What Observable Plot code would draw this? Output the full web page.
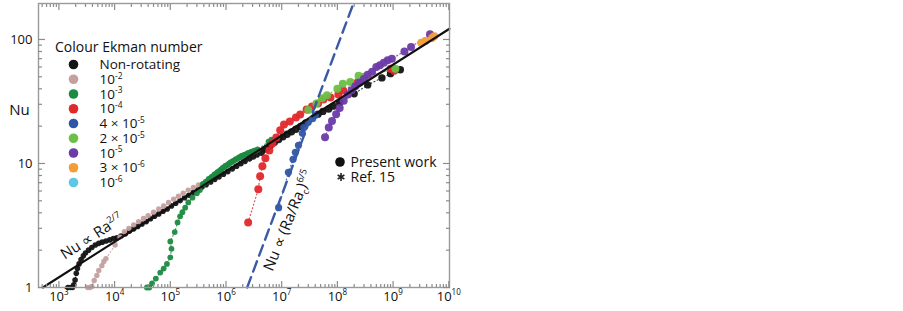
<!DOCTYPE html>
<html><head><meta charset="utf-8">
<script src="https://cdn.jsdelivr.net/npm/d3@7"></script>
<script src="https://cdn.jsdelivr.net/npm/@observablehq/plot@0.6"></script>
<style>
body{margin:0;background:#fff;}
#chart{width:903px;height:311px;}
</style></head><body><div id="chart"></div>
<script>
// ---------------- data ----------------
const legendTitle = "Colour Ekman number";
const seriesLabels = ["Non-rotating","10^{-2}","10^{-3}","10^{-4}","4 × 10^{-5}","2 × 10^{-5}","10^{-5}","3 × 10^{-6}","10^{-6}"];
const seriesColors = ["#141414","#c4a09f","#1d8a42","#e1282b","#2f55a5","#6cbf47","#6b3ba8","#f29e38","#5dc7e8"];

const blackRa = [1.45e3,1.6e3,1.75e3,1.85e3,1.95e3,2.05e3,2.15e3,2.3e3,2.5e3,2.75e3,3.0e3,3.4e3,3.9e3,4.5e3,5.2e3,6e3,7e3,8.2e3,9.5e3,1.1e4,1.3e4,1.55e4,1.85e4,2.2e4,2.6e4,3.1e4,3.7e4,4.4e4,5.2e4,6.2e4,7.4e4,8.8e4,1.05e5,1.25e5,1.5e5,1.8e5,2.15e5,2.6e5,3.1e5,3.7e5,4.4e5,5.3e5,6.3e5,7.5e5,9e5,1.08e6,1.3e6,1.55e6,1.85e6,2.2e6,2.65e6,3.1e6,3.6e6];
const blackNu = [1.0,1.0,1.0,1.05,1.15,1.3,1.42,1.55,1.68,1.8,1.9,2.0,2.1,2.2,2.27,2.32,2.37,2.42,2.48,2.52,2.6,2.7,2.85,2.97,3.1,3.25,3.4,3.58,3.76,3.92,4.12,4.3,4.55,4.78,5.02,5.3,5.55,5.85,6.12,6.45,6.75,7.1,7.45,7.8,8.2,8.6,9.05,9.5,9.95,10.4,10.9,11.3,11.7];
const blackPwRa = [4.3e6,5.2e6,6.2e6,7.4e6,8.8e6,1.05e7,1.25e7,1.5e7,1.8e7,2.2e7,2.7e7,4.5e7,5.5e7,7e7,8.5e7,1.1e8,2e8,3.5e8,6.3e8,9e8,1.35e9];
const blackPwNu = [12.3,13.1,13.9,14.8,15.6,16.4,17.2,18.0,18.9,19.9,21.2,25,26.3,27.5,29,31,36.5,43,49,53,57];

const e2Ra = [3.3e3,3.6e3,3.9e3,4.3e3,4.8e3,5.2e3,5.9e3,6.4e3,7e3,1.02e4,1.25e4,1.5e4,1.8e4,2.2e4,2.7e4,3.3e4,4e4,5e4,6.2e4,7.6e4,9.3e4,1.15e5,1.4e5,1.7e5,2.1e5,2.6e5,3.2e5];
const e2Nu = [1.0,1.0,1.02,1.14,1.25,1.37,1.5,1.62,1.71,2.2,2.55,2.82,3.0,3.2,3.4,3.6,3.8,4.05,4.3,4.55,4.85,5.15,5.45,5.75,6.1,6.4,6.7];

const e3Ra = [3.8e4,4.2e4,4.7e4,5.5e4,6.6e4,7.6e4,8.7e4,1.0e5,1.05e5,1.0e5,1.2e5,1.35e5,1.5e5,1.65e5,1.85e5,2.1e5,2.5e5,3.0e5,3.4e5,3.8e5,4.0e5,4.3e5,4.6e5,4.9e5,5.2e5,5.5e5,5.9e5,6.2e5,6.6e5,7e5,7.4e5,7.8e5,8.2e5,8.7e5,9.2e5,9.7e5,1.02e6,1.08e6,1.14e6,1.2e6,1.28e6,1.35e6,1.42e6,1.5e6,1.6e6,1.7e6,1.8e6,1.9e6,2.0e6,2.15e6,2.3e6,2.45e6,2.6e6,2.8e6,3.0e6,3.2e6,3.45e6,3.7e6,5.8e6,6.5e6];
const e3Nu = [1.0,1.0,1.08,1.18,1.32,1.42,1.55,1.75,2.05,2.35,2.8,3.35,3.75,4.05,4.4,4.85,5.3,5.75,6.1,6.8,6.85,7.1,7.2,7.5,7.55,7.8,7.9,8.15,8.25,8.5,8.6,8.8,8.95,9.2,9.3,9.55,9.6,9.85,9.95,10.2,10.3,10.5,10.6,10.85,10.9,11.2,11.25,11.5,11.55,11.8,11.85,12.1,12.15,12.4,12.45,12.7,12.75,13.0,15.0,15.6];

const e4Ra = [2.5e6,3.8e6,4.1e6,4.5e6,5.1e6,6.0e6,6.8e6,8.0e6,9.4e6,1.1e7,1.4e7,1.8e7,2.15e7,2.8e7,3.5e7,4.5e7,5.6e7,7.5e7,1.04e8,1.27e8,2.3e8,9e8,1.05e9];
const e4Nu = [3.35,6.2,7.9,9.5,11.0,12.7,14.5,16.2,18.5,20.6,21.8,23.5,24.8,27.3,28.8,30.5,32.8,34,36,38.8,45,58,56];

const e45Ra = [8.8e6,1.32e7,1.6e7,1.76e7,2.0e7,2.35e7,2.5e7,3.0e7,3.6e7,4.0e7];
const e45Nu = [4.4,8.5,10.8,12.3,14.0,17.5,19.5,21.5,23.0,24.5];

const e25Ra = [3.0e7,4.2e7,5.3e7,6.5e7,1.0e8,1.25e8,1.7e8,2.4e8,3.0e8,1.1e9];
const e25Nu = [27,30.5,33.5,35.5,40,44,45.5,51,50,58];

const e5Ra = [6.0e7,7.0e7,8.0e7,9.5e7,1.1e8,1.3e8,1.55e8,1.8e8,2.1e8,2.5e8,3.0e8,3.5e8,4.2e8,5e8,5.8e8,6.8e8,8e8,9.5e8,1.6e9,2.1e9,4.6e9];
const e5Nu = [16.3,19.5,22,25,28,32,36,39,42,45,48,52,55,60,62,65,68,70,80,87,110];

const e36Ra = [3.2e9,3.8e9,5.0e9,5.5e9];
const e36Nu = [94,97,103,106];

const e6Ra = [];
const e6Nu = [];

// scaling-law lines
const fitRa = [515, 1.03e10];
const fitNu = [1, 122];
const rotRa = [2.4e6, 1.94e8];
const rotNu = [1, 195];

// axes
const xMajor = [1e3,1e4,1e5,1e6,1e7,1e8,1e9,1e10];
const xTickLabels = ["10^{3}","10^{4}","10^{5}","10^{6}","10^{7}","10^{8}","10^{9}","10^{10}"];
const yMajor = [1,10,100];
const yTickLabels = ["1","10","100"];
const yLabel = "Nu";

// annotations
const annotText = ["Nu ∝ Ra^{2/7}", "Nu ∝ (Ra/Ra_{c})^{6/5}"];
const annotRa = [3.9e3, 1.31e7];
const annotNu = [2.58, 3.47];
const annotAngle = [-33, -68];

const symbolLabels = ["Present work", "Ref. 15"];

// ---------------- build ----------------
const groups = [
  {Ra: blackRa, Nu: blackNu, c: 0, r: 2.8},
  {Ra: blackPwRa, Nu: blackPwNu, c: 0, r: 3.7},
  {Ra: e2Ra, Nu: e2Nu, c: 1, r: 2.7},
  {Ra: e3Ra, Nu: e3Nu, c: 2, r: 2.9},
  {Ra: e4Ra, Nu: e4Nu, c: 3, r: 4},
  {Ra: e45Ra, Nu: e45Nu, c: 4, r: 3.6},
  {Ra: e25Ra, Nu: e25Nu, c: 5, r: 4},
  {Ra: e5Ra, Nu: e5Nu, c: 6, r: 4},
  {Ra: e36Ra, Nu: e36Nu, c: 7, r: 4},
  {Ra: e6Ra, Nu: e6Nu, c: 8, r: 4}
];
const toRows = (Ra, Nu) => Ra.map((x, i) => ({Ra: x, Nu: Nu[i]}));

const xDom = [430, 1.03e10], yDom = [1, 195];
const xMinor = [], yMinor = [];
for (let e = 2; e <= 9; e++) for (let k = 2; k <= 9; k++) { const v = k * 10 ** e; if (v > xDom[0] && v < xDom[1]) xMinor.push(v); }
for (let e = 0; e <= 2; e++) for (let k = 2; k <= 9; k++) { const v = k * 10 ** e; if (v < yDom[1]) yMinor.push(v); }

const tickCol = "#8c8c8c";
const marks = [];
for (const g of groups) {
  const rows = toRows(g.Ra, g.Nu);
  marks.push(Plot.line(rows, {x: "Ra", y: "Nu", stroke: seriesColors[g.c], strokeWidth: 1.2, strokeDasharray: "1,2.6", strokeOpacity: 0.8}));
}
for (const g of groups) {
  marks.push(Plot.dot(toRows(g.Ra, g.Nu), {x: "Ra", y: "Nu", r: g.r, fill: seriesColors[g.c], fillOpacity: 0.95}));
}
marks.push(Plot.line(toRows(fitRa, fitNu), {x: "Ra", y: "Nu", stroke: "#111", strokeWidth: 2.1}));
marks.push(Plot.line(toRows(rotRa, rotNu), {x: "Ra", y: "Nu", stroke: "#3b5aa6", strokeWidth: 2.4, strokeDasharray: "11,6"}));
marks.push(Plot.frame({stroke: "#9a9a9a", strokeWidth: 1.4}));
// inward ticks: positive tick length shifted back inside the frame
const xTickSets = [[xMinor, 3], [xMajor, 6]];
const yTickSets = [[yMinor, 4], [yMajor, 7]];
for (const [vals, len] of xTickSets) {
  marks.push(Plot.axisX(vals, {anchor: "bottom", tickSize: len, dy: -len, tickFormat: () => "", stroke: tickCol, strokeWidth: 1.2, label: null}));
  marks.push(Plot.axisX(vals, {anchor: "top", tickSize: len, dy: len, tickFormat: () => "", stroke: tickCol, strokeWidth: 1.2, label: null}));
}
for (const [vals, len] of yTickSets) {
  marks.push(Plot.axisY(vals, {anchor: "left", tickSize: len, dx: len, tickFormat: () => "", stroke: tickCol, strokeWidth: 1.2, label: null}));
  marks.push(Plot.axisY(vals, {anchor: "right", tickSize: len, dx: -len, tickFormat: () => "", stroke: tickCol, strokeWidth: 1.2, label: null}));
}
marks.push(Plot.text(xMajor, {x: d => d, frameAnchor: "bottom", dy: 13, text: (d, i) => xTickLabels[i], fontSize: 13, fill: "#111"}));
marks.push(Plot.text(yMajor, {y: d => d, frameAnchor: "left", dx: -6, textAnchor: "end", text: (d, i) => yTickLabels[i], fontSize: 13, fill: "#111"}));
marks.push(Plot.text([yLabel], {y: () => 27, frameAnchor: "left", dx: -19, textAnchor: "middle", text: d => d, fontSize: 15, fill: "#111"}));
marks.push(Plot.text(annotText.map((t, i) => ({t, Ra: annotRa[i], Nu: annotNu[i], a: annotAngle[i]})),
  {x: "Ra", y: "Nu", text: "t", rotate: "a", fontSize: 15, fill: "#111"}));

const chart = Plot.plot({
  width: 903, height: 311,
  marginLeft: 38, marginRight: 454, marginTop: 3, marginBottom: 24,
  x: {type: "log", domain: xDom, axis: null},
  y: {type: "log", domain: yDom, axis: null},
  style: {fontFamily: "'Open Sans', Lato, sans-serif", background: "#fff"},
  marks
});
document.getElementById("chart").appendChild(chart);

// ---------------- legend (drawn into the svg) ----------------
const svg = d3.select(chart);
const lg = svg.append("g").attr("font-family", "'Open Sans', Lato, sans-serif").attr("fill", "#111").attr("text-anchor", "start");
lg.append("text").attr("x", 55).attr("y", 47).attr("dy", "0.35em").attr("font-size", 14).text(legendTitle);
seriesLabels.forEach((lab, i) => {
  const y = 64.5 + i * 14.75;
  lg.append("circle").attr("cx", 73.5).attr("cy", y).attr("r", 4.8).attr("fill", seriesColors[i]);
  lg.append("text").attr("x", 99.5).attr("y", y).attr("dy", "0.35em").attr("font-size", 13.5).text(lab);
});
lg.append("circle").attr("cx", 340).attr("cy", 162).attr("r", 4.8).attr("fill", "#111");
lg.append("path").attr("transform", "translate(341,177)").attr("d", d3.symbol(d3.symbolAsterisk, 42)()).attr("stroke", "#222").attr("stroke-width", 1.6).attr("fill", "none");
symbolLabels.forEach((lab, i) => {
  lg.append("text").attr("x", 350.5).attr("y", 162 + i * 15).attr("dy", "0.35em").attr("font-size", 14).text(lab);
});

// ---------------- superscripts / subscripts ----------------
const NS = "http://www.w3.org/2000/svg";
chart.querySelectorAll("text").forEach(el => {
  const s = el.textContent;
  if (!/[\^_]\{/.test(s)) return;
  const fs = parseFloat(getComputedStyle(el).fontSize) || 13;
  el.textContent = "";
  let shift = 0;
  const add = (str, kind) => {
    const t = document.createElementNS(NS, "tspan");
    t.textContent = str;
    const target = kind === "^" ? -0.4 * fs : kind === "_" ? 0.25 * fs : 0;
    if (target - shift !== 0) t.setAttribute("dy", target - shift);
    shift = target;
    if (kind) t.setAttribute("font-size", 0.62 * fs);
    el.appendChild(t);
  };
  const re = /([\^_])\{([^}]*)\}/g;
  let last = 0, m;
  while ((m = re.exec(s))) {
    if (m.index > last) add(s.slice(last, m.index), null);
    add(m[2], m[1]);
    last = re.lastIndex;
  }
  if (last < s.length) add(s.slice(last), null);
});
</script>
</body></html>
